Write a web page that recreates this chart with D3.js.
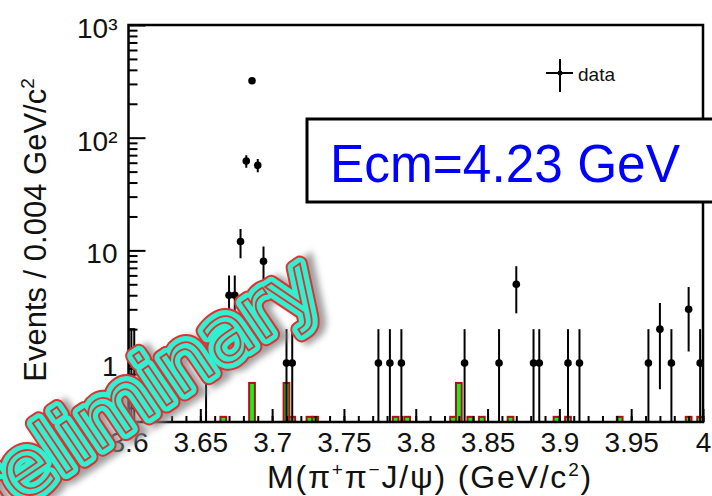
<!DOCTYPE html>
<html lang="en">
<head>
<meta charset="utf-8">
<script src="https://d3js.org/d3.v7.min.js"></script>
<style>
  body { margin: 0; background: #fff; }
  svg { display: block; font-family: "Liberation Sans", Arial, sans-serif; }
  .tick text { font-size: 28px; fill: #111; }
</style>
</head>
<body>
<svg width="712" height="496"></svg>
<script>
// data: bin centres (GeV/c^2) and events per 0.004 GeV/c^2
const massBins = [3.602, 3.654, 3.670, 3.674, 3.678, 3.682, 3.686, 3.690, 3.694,
                  3.710, 3.714, 3.774, 3.782, 3.790, 3.834, 3.858, 3.870, 3.882,
                  3.886, 3.906, 3.914, 3.962, 3.970, 3.978, 3.990, 3.998];
const events   = [1, 1, 4, 4, 12, 62, 320, 57, 8,
                  1, 1, 1, 1, 1, 1, 1, 5, 1,
                  1, 1, 1, 1, 2, 1, 3, 1];

// green MC histogram (scaled)
const mcBins   = [3.618, 3.666, 3.686, 3.710, 3.714, 3.726, 3.730, 3.786, 3.794,
                  3.826, 3.830, 3.838, 3.846, 3.866, 3.898, 3.906, 3.942, 3.990, 3.998];
const mcValues = [1/3, 1/3, 2/3, 2/3, 1/3, 1/3, 1/3, 1/3, 1/3,
                  1/3, 2/3, 1/3, 1/3, 1/3, 1/3, 1/3, 1/3, 1/3, 1/3];

// open black histogram in the first bin
const otherBins   = [3.602];
const otherValues = [2];

const binWidth = 0.004;
const xMajorTicks = [3.6, 3.65, 3.7, 3.75, 3.8, 3.85, 3.9, 3.95, 4.0];
const xTickLabels = ["3.6", "3.65", "3.7", "3.75", "3.8", "3.85", "3.9", "3.95", "4"];
const yMajorTicks = [1, 10, 100, 1000];
const yTickLabels = ["1", "10", "10\u00B2", "10\u00B3"];

const svg = d3.select("svg");
const L = 128.5, R = 703, T = 25, B = 422;

const x = d3.scaleLinear().domain([3.6, 4.0]).range([L, R]);
const y = d3.scaleLog().domain([0.3, 1000]).range([B, T]);

svg.append("defs").append("clipPath").attr("id", "plot")
   .append("rect").attr("x", L).attr("y", T).attr("width", R - L).attr("height", B - T);

const plot = svg.append("g").attr("clip-path", "url(#plot)");

// open histogram
plot.selectAll(".other").data(otherBins).enter().append("rect")
    .attr("x", d => x(d - binWidth / 2))
    .attr("width", d => x(d + binWidth / 2) - x(d - binWidth / 2))
    .attr("y", (d, i) => y(otherValues[i]))
    .attr("height", (d, i) => B - y(otherValues[i]))
    .attr("fill", "#fff").attr("stroke", "#000").attr("stroke-width", 2);

// MC histogram
plot.selectAll(".mc").data(mcBins).enter().append("rect")
    .attr("x", d => x(d - binWidth / 2))
    .attr("width", d => x(d + binWidth / 2) - x(d - binWidth / 2))
    .attr("y", (d, i) => y(mcValues[i]))
    .attr("height", (d, i) => B - y(mcValues[i]))
    .attr("fill", "#19f019").attr("stroke", "#b01010").attr("stroke-width", 2);

// data points with sqrt(N) errors
const pts = plot.selectAll(".pt").data(massBins).enter().append("g");
pts.append("line")
   .attr("x1", d => x(d)).attr("x2", d => x(d))
   .attr("y1", (d, i) => y(events[i] + Math.sqrt(events[i])))
   .attr("y2", (d, i) => y(Math.max(events[i] - Math.sqrt(events[i]), 0.3)))
   .attr("stroke", "#000").attr("stroke-width", 2);
pts.append("line")
   .attr("x1", d => x(d - binWidth / 2)).attr("x2", d => x(d + binWidth / 2))
   .attr("y1", (d, i) => y(events[i])).attr("y2", (d, i) => y(events[i]))
   .attr("stroke", "#000").attr("stroke-width", 2);
pts.append("circle")
   .attr("cx", d => x(d)).attr("cy", (d, i) => y(events[i]))
   .attr("r", 3.8).attr("fill", "#000");

// axes
const xMinor = d3.range(0, 41).map(i => 3.6 + i * 0.01);
const yMinor = [];
[0.1, 1, 10, 100].forEach(dec => { for (let k = 2; k <= 9; k++) if (dec * k >= 0.3) yMinor.push(dec * k); });

function clean(g) {
  g.select(".domain").remove();
  g.selectAll("line").attr("stroke", "#000").attr("stroke-width", 2);
}

svg.append("g").attr("transform", `translate(0,${B})`)
   .call(d3.axisBottom(x).tickValues(xMinor).tickSize(-6).tickFormat(""))
   .call(clean);
svg.append("g").attr("transform", `translate(0,${B})`)
   .call(d3.axisBottom(x).tickValues(xMajorTicks).tickSize(-13).tickPadding(10)
           .tickFormat((d, i) => xTickLabels[i]))
   .call(clean)
   .selectAll("text").attr("font-family", "Liberation Sans");

svg.append("g").attr("transform", `translate(${L},0)`)
   .call(d3.axisLeft(y).tickValues(yMinor).tickSize(-9).tickFormat(""))
   .call(clean);
svg.append("g").attr("transform", `translate(${L},0)`)
   .call(d3.axisLeft(y).tickValues(yMajorTicks).tickSize(-17).tickPadding(11)
           .tickFormat((d, i) => yTickLabels[i]))
   .call(clean)
   .selectAll("text").attr("dy", "0.44em").attr("font-family", "Liberation Sans");

// frame
svg.append("rect").attr("x", L).attr("y", T).attr("width", R - L).attr("height", B - T)
   .attr("fill", "none").attr("stroke", "#000").attr("stroke-width", 2.5);

// axis titles
const xt = svg.append("text").attr("x", 430).attr("y", 488).attr("text-anchor", "middle")
   .attr("font-size", 32).attr("letter-spacing", 1.8).attr("fill", "#111");
xt.append("tspan").text("M(\u03C0");
xt.append("tspan").text("+").attr("font-size", 19).attr("dy", -12);
xt.append("tspan").text("\u03C0").attr("dy", 12);
xt.append("tspan").text("\u2212").attr("font-size", 19).attr("dy", -12);
xt.append("tspan").text("J/\u03C8) (GeV/c").attr("dy", 12);
xt.append("tspan").text("2").attr("font-size", 19).attr("dy", -12);
xt.append("tspan").text(")").attr("dy", 12);

const yt = svg.append("text").attr("transform", "translate(46,230) rotate(-90)")
   .attr("text-anchor", "middle").attr("font-size", 31).attr("fill", "#111");
yt.append("tspan").text("Events / 0.004 GeV/c");
yt.append("tspan").text("2").attr("font-size", 19).attr("dy", -12);

// legend
svg.append("line").attr("x1", 546).attr("x2", 573).attr("y1", 73).attr("y2", 73)
   .attr("stroke", "#000").attr("stroke-width", 2);
svg.append("line").attr("x1", 560).attr("x2", 560).attr("y1", 59).attr("y2", 92)
   .attr("stroke", "#000").attr("stroke-width", 2);
svg.append("circle").attr("cx", 560).attr("cy", 73).attr("r", 2.5).attr("fill", "#000");
svg.append("text").attr("x", 578).attr("y", 81).attr("font-size", 19).attr("fill", "#111").text("data");

// energy box
svg.append("rect").attr("x", 307).attr("y", 119).attr("width", 420).attr("height", 83)
   .attr("fill", "#fff").attr("stroke", "#000").attr("stroke-width", 3);
svg.append("text").attr("x", 330).attr("y", 182).attr("font-size", 53)
   .attr("textLength", 350).attr("lengthAdjust", "spacingAndGlyphs")
   .attr("fill", "#0000ff").text("Ecm=4.23 GeV");

// watermark
const f = svg.select("defs").append("filter").attr("id", "blur")
   .attr("x", "-20%").attr("y", "-20%").attr("width", "140%").attr("height", "140%");
f.append("feGaussianBlur").attr("stdDeviation", 3);

const wm = svg.append("g").attr("transform", "translate(326,298) rotate(-34)")
   .attr("font-family", "DejaVu Sans").attr("font-size", 79).attr("text-anchor", "end");
const word = "Preliminary";
wm.append("text").text(word).attr("x", 5).attr("y", 5).attr("fill", "#888")
  .attr("stroke", "#888").attr("stroke-width", 16).attr("filter", "url(#blur)").attr("opacity", 0.8);
wm.append("text").text(word).attr("fill", "#e03030").attr("stroke", "#e03030").attr("stroke-width", 16)
  .attr("stroke-linejoin", "round");
wm.append("text").text(word).attr("fill", "#30f0d0").attr("stroke", "#30f0d0").attr("stroke-width", 12)
  .attr("stroke-linejoin", "round");
wm.append("text").text(word).attr("fill", "none").attr("stroke", "#e03030").attr("stroke-width", 1.8);
</script>
</body>
</html>
